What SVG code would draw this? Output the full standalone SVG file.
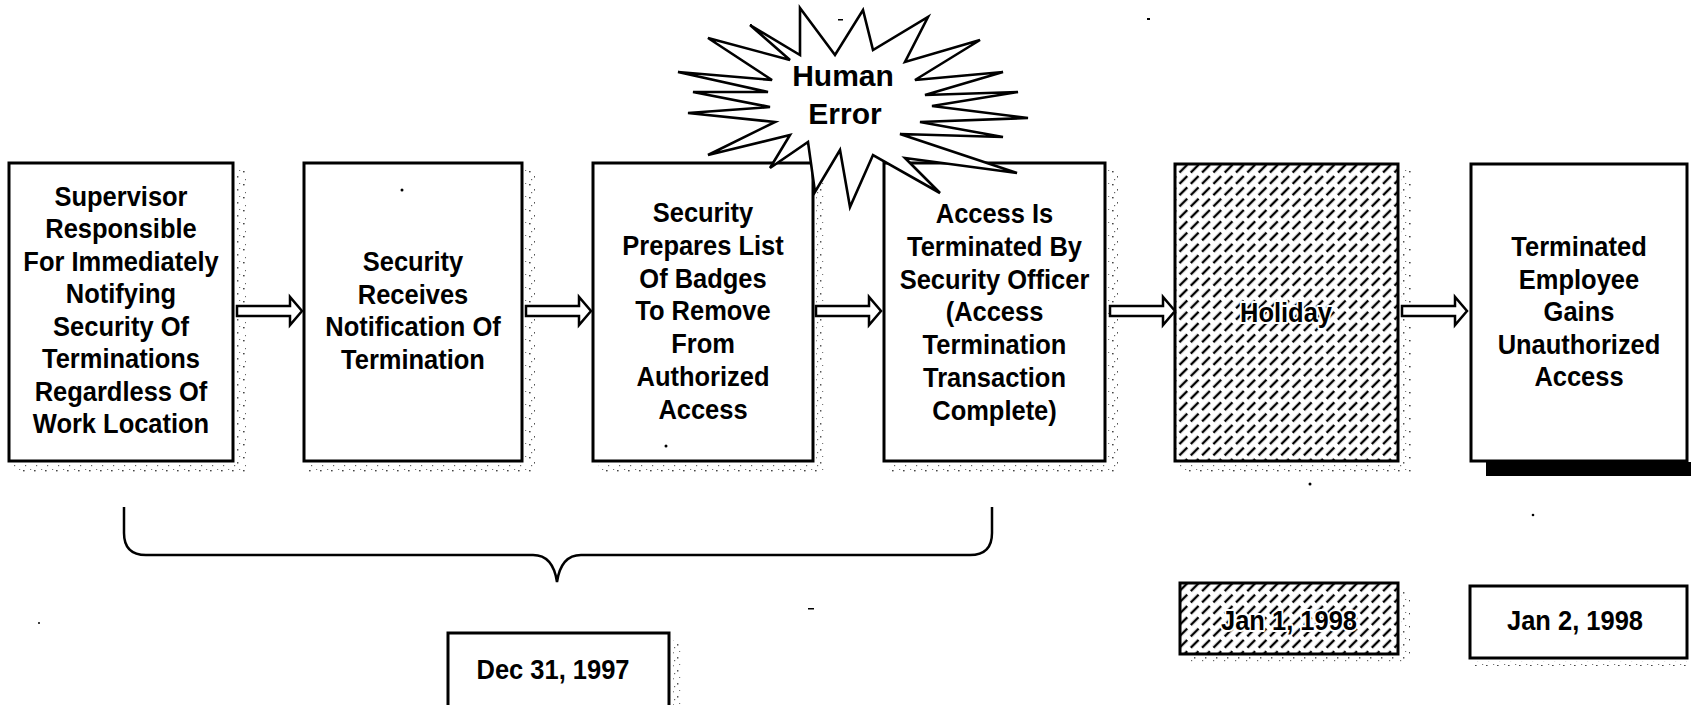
<svg xmlns="http://www.w3.org/2000/svg" width="1691" height="705" viewBox="0 0 1691 705">
<style>
.box{fill:#fff;stroke:#000;stroke-width:3}
.hbox{fill:url(#hatch);stroke:#000;stroke-width:3}
.t{font-family:"Liberation Sans",Arial,sans-serif;font-weight:bold;font-size:28px;fill:#000;text-anchor:middle}
.halo{stroke:#fff;stroke-width:4;paint-order:stroke;stroke-linejoin:round}
.bt{font-family:"Liberation Sans",Arial,sans-serif;font-weight:bold;font-size:30px;fill:#000;text-anchor:middle}
.sh{fill:url(#speck)}
.arrow{fill:#fff;stroke:#000;stroke-width:2.5;stroke-linejoin:miter}
.brace{fill:none;stroke:#000;stroke-width:2.5}
.noise{fill:#000}
</style>
<defs>
<pattern id="hatch" patternUnits="userSpaceOnUse" width="16" height="16" patternTransform="rotate(-45)">
<rect width="16" height="16" fill="#fff"/>
<line x1="0" y1="4" x2="11" y2="4" stroke="#000" stroke-width="2.4"/>
<line x1="8" y1="12" x2="16" y2="12" stroke="#000" stroke-width="2.4"/>
<line x1="0" y1="12" x2="3" y2="12" stroke="#000" stroke-width="2.4"/>
</pattern>
<pattern id="speck" patternUnits="userSpaceOnUse" width="11" height="13">
<rect x="1" y="2" width="1.6" height="1.4" fill="#444"/>
<rect x="6" y="7" width="1.4" height="1.6" fill="#555"/>
<rect x="3" y="10" width="1.2" height="1.2" fill="#666"/>
<rect x="8" y="1" width="1.2" height="1" fill="#777"/>
</pattern>
<path id="arr" d="M0,-5 L53,-5 L53,-14 L65,0 L53,14 L53,5 L0,5 Z"/>
</defs>

<g id="node-supervisor">
<rect class="sh" x="236" y="170" width="10" height="305"/>
<rect class="sh" x="14" y="465" width="222" height="10"/>
<rect class="box" x="9" y="163" width="224" height="298"/>
<text class="t" transform="matrix(0.91 0 0 1 121 0)"><tspan x="0" y="206">Supervisor</tspan><tspan x="0" y="238.5">Responsible</tspan><tspan x="0" y="271">For Immediately</tspan><tspan x="0" y="303.5">Notifying</tspan><tspan x="0" y="336">Security Of</tspan><tspan x="0" y="368.5">Terminations</tspan><tspan x="0" y="401">Regardless Of</tspan><tspan x="0" y="433.5">Work Location</tspan></text>
</g>

<g id="node-receives">
<rect class="sh" x="525" y="170" width="10" height="305"/>
<rect class="sh" x="309" y="465" width="216" height="10"/>
<rect class="box" x="304" y="163" width="218" height="298"/>
<circle class="noise" cx="402" cy="190" r="1.5"/>
<text class="t" transform="matrix(0.91 0 0 1 413 0)"><tspan x="0" y="271.5">Security</tspan><tspan x="0" y="304">Receives</tspan><tspan x="0" y="336.5">Notification Of</tspan><tspan x="0" y="369">Termination</tspan></text>
</g>

<g id="node-prepares">
<rect class="sh" x="816" y="170" width="10" height="305"/>
<rect class="sh" x="598" y="465" width="218" height="10"/>
<rect class="box" x="593" y="163" width="220" height="298"/>
<circle class="noise" cx="666" cy="446" r="1.5"/>
<text class="t" transform="matrix(0.91 0 0 1 703 0)"><tspan x="0" y="222">Security</tspan><tspan x="0" y="254.8">Prepares List</tspan><tspan x="0" y="287.6">Of Badges</tspan><tspan x="0" y="320.4">To Remove</tspan><tspan x="0" y="353.2">From</tspan><tspan x="0" y="386">Authorized</tspan><tspan x="0" y="418.8">Access</tspan></text>
</g>

<g id="node-terminated">
<rect class="sh" x="1108" y="170" width="10" height="305"/>
<rect class="sh" x="889" y="465" width="219" height="10"/>
<rect class="box" x="884" y="163" width="221" height="298"/>
<text class="t" transform="matrix(0.91 0 0 1 994.5 0)"><tspan x="0" y="223">Access Is</tspan><tspan x="0" y="255.8">Terminated By</tspan><tspan x="0" y="288.6">Security Officer</tspan><tspan x="0" y="321.4">(Access</tspan><tspan x="0" y="354.2">Termination</tspan><tspan x="0" y="387">Transaction</tspan><tspan x="0" y="419.8">Complete)</tspan></text>
</g>

<g id="node-burst">
<polygon fill="#fff" stroke="#000" stroke-width="2.6" stroke-linejoin="miter" points="800,8 835,55 863,10 873,50 928,17 905,62 980,40 915,80 1003,72 925,95 1018,92 932,106 1028,118 920,122 1003,137 900,134 1017,173 905,158 940,193 873,155 850,207 840,150 815,192 808,142 770,168 790,135 708,155 775,122 688,113 770,107 693,92 768,92 678,72 772,80 708,38 790,60 750,25 800,55"/>
<rect class="noise" x="838" y="19" width="5" height="1.5"/>
<text class="bt"><tspan x="843" y="86">Human</tspan><tspan x="845" y="124">Error</tspan></text>
</g>

<g id="node-holiday">
<rect class="sh" x="1401" y="170" width="10" height="305"/>
<rect class="sh" x="1180" y="465" width="221" height="10"/>
<rect class="hbox" x="1175" y="164" width="223" height="297"/>
<text class="t halo" transform="matrix(0.91 0 0 1 1286 0)" x="0" y="322">Holiday</text>
</g>

<g id="node-gains">
<rect x="1486" y="462" width="205" height="14" fill="#000"/>
<rect class="box" x="1471" y="164" width="216" height="297"/>
<text class="t" transform="matrix(0.91 0 0 1 1579 0)"><tspan x="0" y="256.5">Terminated</tspan><tspan x="0" y="289">Employee</tspan><tspan x="0" y="321.5">Gains</tspan><tspan x="0" y="354">Unauthorized</tspan><tspan x="0" y="386.5">Access</tspan></text>
</g>

<g id="date-dec31">
<rect class="sh" x="673" y="640" width="9" height="65"/>
<rect class="box" x="448" y="633" width="221" height="80"/>
<text class="t" transform="matrix(0.91 0 0 1 553 0)" x="0" y="679">Dec 31, 1997</text>
</g>

<g id="date-jan1">
<rect class="sh" x="1401" y="590" width="9" height="72"/>
<rect class="sh" x="1185" y="657" width="216" height="7"/>
<rect class="hbox" x="1180" y="583" width="218" height="71"/>
<text class="t halo" transform="matrix(0.91 0 0 1 1289 0)" x="0" y="630">Jan 1, 1998</text>
</g>

<g id="date-jan2">
<rect class="sh" x="1475" y="661" width="212" height="5"/>
<rect class="box" x="1470" y="586" width="217" height="72"/>
<text class="t" transform="matrix(0.91 0 0 1 1575 0)" x="0" y="630">Jan 2, 1998</text>
</g>

<g id="connectors">
<use href="#arr" class="arrow" x="237" y="311"/>
<use href="#arr" class="arrow" x="526" y="311"/>
<use href="#arr" class="arrow" x="816" y="311"/>
<use href="#arr" class="arrow" x="1110" y="311"/>
<use href="#arr" class="arrow" x="1402" y="311"/>
<path class="brace" d="M124,507 L124,533 Q124,555 146,555 L533,555 Q553,555 557,582 Q561,555 581,555 L970,555 Q992,555 992,533 L992,507"/>
</g>

<g id="marks">
<circle class="noise" cx="1310" cy="484" r="1.5"/>
<circle class="noise" cx="1533" cy="515" r="1.3"/>
<rect class="noise" x="1147" y="18" width="3" height="2"/>
<rect class="noise" x="808" y="608" width="6" height="1.5"/>
<circle class="noise" cx="39" cy="623" r="1"/>
</g>
</svg>
